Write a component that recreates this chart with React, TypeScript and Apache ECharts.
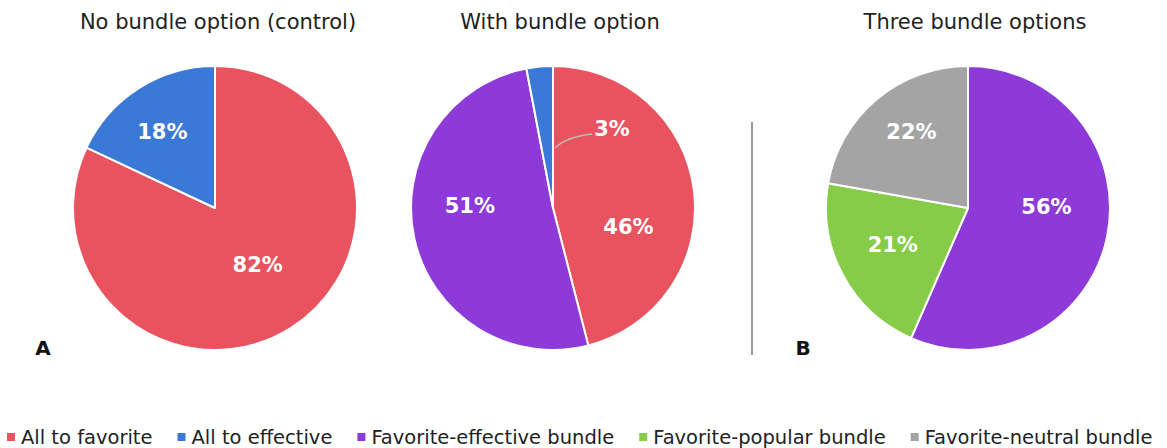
import React, { useEffect, useRef } from "react";
import * as echarts from "echarts";

const legendNames = [
  "All to favorite",
  "All to effective",
  "Favorite-effective bundle",
  "Favorite-popular bundle",
  "Favorite-neutral bundle",
];
const colors: Record<string, string> = {
  "All to favorite": "#E8535F",
  "All to effective": "#3A79D6",
  "Favorite-effective bundle": "#8E3AD8",
  "Favorite-popular bundle": "#86CC49",
  "Favorite-neutral bundle": "#A4A4A4",
};

const titles = ["No bundle option (control)", "With bundle option", "Three bundle options"];

const controlNames = ["All to favorite", "All to effective"];
const controlValues = [82, 18];

const bundleNames = ["All to favorite", "Favorite-effective bundle", "All to effective"];
const bundleValues = [46, 51, 3];

const threeNames = ["Favorite-effective bundle", "Favorite-popular bundle", "Favorite-neutral bundle"];
const threeValues = [56, 21, 22];

// layout: pie centres, radius, title centres, label nudges (pixels)
const centers = [
  [215, 208],
  [553, 208],
  [968, 208],
];
const titleCenters = [213, 555, 970];
const RADIUS = 142;
const labelNudges = [
  [[3, -5], [-13, -14]],
  [[2, 28], [-11, -18], [0, 0]],
  [[6, -16], [-10, 2], [-9, -19]],
];
const smallLabelPos = [612, 129];

const FONT = "DejaVu Sans";

function makeData(names: string[], values: number[]) {
  return names.map((n, i) => ({
    name: n,
    value: values[i],
    itemStyle: { color: colors[n] },
  }));
}

export default function App() {
  const ref = useRef<HTMLDivElement>(null);
  useEffect(() => {
    document.body.style.margin = "0";
    if (!ref.current) return;
    const chart = echarts.init(ref.current, null, { renderer: "svg" });

    const baseSeries = (idx: number, names: string[], values: number[]): any => ({
      type: "pie",
      center: centers[idx],
      radius: [0, RADIUS],
      startAngle: 90,
      clockwise: true,
      avoidLabelOverlap: false,
      itemStyle: { borderColor: "#fff", borderWidth: 2 },
      label: {
        show: true,
        position: "inside",
        formatter: "{c}%",
        color: "#fff",
        fontFamily: FONT,
        fontWeight: "bold",
        fontSize: 21,
      },
      labelLine: { show: false },
      emphasis: { disabled: true },
      labelLayout: (params: any) => {
        const n = labelNudges[idx][params.dataIndex];
        return n ? { dx: n[0], dy: n[1] } : {};
      },
      data: makeData(names, values),
    });

    const s2: any = baseSeries(1, bundleNames, bundleValues);
    s2.labelLayout = (params: any) => {
      if (params.dataIndex === 2) {
        return {
          x: smallLabelPos[0],
          y: smallLabelPos[1],
          align: "center",
          verticalAlign: "middle",
        };
      }
      const n = labelNudges[1][params.dataIndex];
      return { dx: n[0], dy: n[1] };
    };

    chart.setOption({
      animation: false,
      title: titles.map((t, i) => ({
        text: t,
        left: titleCenters[i],
        top: 6,
        textAlign: "center",
        textStyle: {
          fontFamily: FONT,
          fontWeight: "normal",
          fontSize: 21,
          color: "#222",
        },
      })),
      legend: {
        data: legendNames,
        left: 0,
        top: 422,
        itemWidth: 10,
        itemHeight: 10,
        itemGap: 23,
        icon: "rect",
        textStyle: { fontFamily: FONT, fontSize: 19.5, color: "#222" },
        selectedMode: false,
      },
      graphic: [
        {
          type: "line",
          shape: { x1: 752, y1: 122, x2: 752, y2: 355 },
          style: { stroke: "#9a9a9a", lineWidth: 2 },
        },
        {
          type: "bezierCurve",
          z: 100,
          shape: { x1: 555, y1: 148, cpx1: 566, cpy1: 137, x2: 592, y2: 134 },
          style: { stroke: "#bdbdbd", lineWidth: 1.5, fill: "none" },
        },
        {
          type: "text",
          x: 43,
          y: 348,
          style: {
            text: "A",
            fontFamily: FONT,
            fontWeight: "bold",
            fontSize: 20,
            fill: "#111",
            align: "center",
            verticalAlign: "middle",
          },
        },
        {
          type: "text",
          x: 803,
          y: 348,
          style: {
            text: "B",
            fontFamily: FONT,
            fontWeight: "bold",
            fontSize: 20,
            fill: "#111",
            align: "center",
            verticalAlign: "middle",
          },
        },
      ],
      series: [
        baseSeries(0, controlNames, controlValues),
        s2,
        baseSeries(2, threeNames, threeValues),
      ],
    });
    return () => chart.dispose();
  }, []);
  return <div ref={ref} style={{ width: 1167, height: 448 }} />;
}
